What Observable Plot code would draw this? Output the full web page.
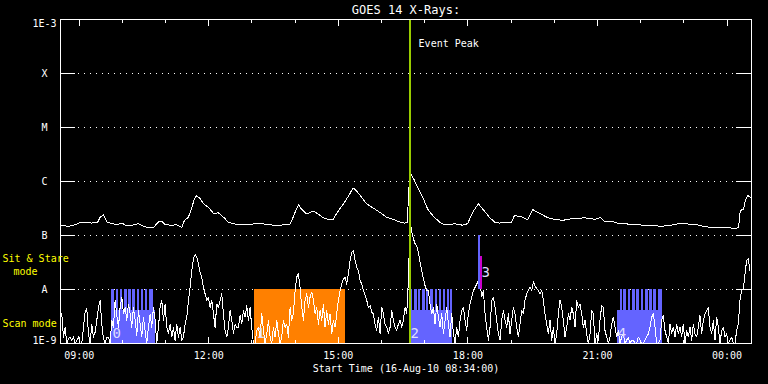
<!DOCTYPE html>
<html><head><meta charset="utf-8">
<script src="https://cdn.jsdelivr.net/npm/d3@7"></script>
<script src="https://cdn.jsdelivr.net/npm/@observablehq/plot@0.6"></script>
<style>html,body{margin:0;padding:0;background:#000;overflow:hidden}svg{display:block}</style>
</head><body><div id="chart"></div>
<script>
// ---- axis / labels ----
const titleText = "GOES 14 X-Rays:";
const xAxisTitle = "Start Time (16-Aug-10 08:34:00)";
const spanMin = [0, 960];                 // minutes after 08:34:00
const levelValues = [1e-3, 1e-4, 1e-5, 1e-6, 1e-7, 1e-8, 1e-9];
const levelLabels = ["1E-3", "X", "M", "C", "B", "A", "1E-9"];
const gridLevels = [1e-4, 1e-5, 1e-6, 1e-7, 1e-8];
const majorTickMin = [26, 206, 386, 566, 746, 926];
const majorTickLabels = ["09:00", "12:00", "15:00", "18:00", "21:00", "00:00"];
const minorTickMin = [86, 146, 266, 326, 446, 506, 626, 686, 806, 866];

// ---- long channel (1-8 A), log10 flux, irregular digitised times (min after start) ----
const longTimes = [1, 11.1, 20.4, 27.4, 34.3, 43.5, 51.8, 55.1, 59.7, 64.3, 71.3, 78.2, 85.1, 92.1, 99.0, 108.3, 115.3, 122.2, 129.2, 136.1,
  140.7, 145.4, 154.6, 161.5, 168.5, 172.2, 177.8, 182.4, 186.1, 189.3, 194.0, 198.6, 205.6, 212.5, 219.4, 224.0, 228.7, 233.3, 240.3, 247.2,
  258.3, 272.2, 279.2, 286.1, 300.0, 318.5, 323.2, 327.8, 331.0, 334.7, 341.7, 351.0, 357.9, 364.9, 371.8, 378.8, 383.3, 387.9, 394.9, 401.8,
  406.5, 411.1, 418.1, 425.0, 434.3, 443.5, 452.8, 462.1, 471.3, 478.2, 481.5, 483.3, 485.1,
  487.5, 491.7, 496.3, 503.2, 510.1, 517.1, 526.4, 533.3, 540.3, 547.2, 558.8, 565.7, 572.6, 580.6, 586.5, 595.8, 602.8, 609.7, 619.0, 626.0,
  630.6, 639.9, 649.0, 656.0, 662.9, 669.9, 676.8, 686.1, 697.6, 709.3, 718.5, 727.8, 737.1,
  743.1, 750.0, 756.9, 766.2, 773.2, 782.4, 791.7, 801.0, 810.1, 824.0, 833.3, 842.6, 851.8, 858.8, 868.1, 875.0, 884.3, 893.5, 902.8, 912.1,
  921.3, 930.6, 937.5, 942.1, 944.4, 949.0, 951.4, 954.6, 958.3];
const longLog10 = [-6.81, -6.83, -6.80, -6.76, -6.75, -6.77, -6.75, -6.66, -6.62, -6.75, -6.78, -6.80, -6.77, -6.82, -6.81, -6.78, -6.83, -6.86, -6.85, -6.75,
  -6.74, -6.80, -6.81, -6.80, -6.85, -6.72, -6.66, -6.48, -6.32, -6.26, -6.32, -6.41, -6.48, -6.59, -6.58, -6.63, -6.69, -6.76, -6.78, -6.80,
  -6.80, -6.78, -6.77, -6.80, -6.81, -6.80, -6.66, -6.51, -6.43, -6.51, -6.60, -6.55, -6.60, -6.67, -6.70, -6.70, -6.60, -6.51, -6.38, -6.23,
  -6.12, -6.17, -6.29, -6.41, -6.49, -6.57, -6.66, -6.70, -6.75, -6.77, -6.76, -6.35, -5.83,
  -5.87, -5.98, -6.11, -6.29, -6.51, -6.63, -6.75, -6.80, -6.80, -6.78, -6.81, -6.78, -6.57, -6.41, -6.51, -6.66, -6.75, -6.77, -6.75, -6.77,
  -6.63, -6.65, -6.71, -6.52, -6.57, -6.62, -6.67, -6.70, -6.72, -6.69, -6.69, -6.67, -6.69,
  -6.70, -6.67, -6.75, -6.74, -6.77, -6.77, -6.80, -6.80, -6.81, -6.81, -6.83, -6.82, -6.80, -6.78, -6.77, -6.80, -6.80, -6.83, -6.85, -6.86,
  -6.86, -6.86, -6.88, -6.85, -6.54, -6.51, -6.35, -6.26, -6.29];

// ---- short channel (0.5-4 A), log10 flux, evenly sampled ----
const shortStartMin = 1.8;
const shortStepMin = 2.315;
const shortLog10 = [
  -8.45, -8.88, -8.70, -9.0, -8.91, -8.88, -8.94, -8.88, -9.0, -8.94,
  -8.88, -9.0, -9.0, -8.70, -8.42, -8.36, -8.82, -9.0, -8.64, -8.88,
  -8.79, -8.57, -8.33, -8.20, -8.64, -8.91, -9.0, -8.88, -8.88, -9.0,
  -8.57, -8.70, -8.20, -8.48, -8.70, -8.33, -8.14, -8.45, -8.33, -8.57,
  -8.27, -8.45, -8.70, -8.33, -8.57, -8.85, -8.39, -8.64, -8.88, -8.51,
  -8.76, -9.0, -8.70, -8.45, -8.70, -8.33, -8.57, -9.0, -8.70, -8.33,
  -8.20, -8.57, -8.27, -8.70, -8.82, -8.64, -8.88, -8.70, -8.94, -8.64,
  -8.88, -8.70, -8.94, -8.88, -8.64, -8.51, -8.20, -7.96, -7.65, -7.43,
  -7.35, -7.40, -7.52, -7.68, -7.77, -7.96, -8.08, -8.20, -8.14, -8.33,
  -8.20, -8.45, -8.70, -8.27, -8.33, -8.20, -8.08, -8.45, -8.76, -8.88,
  -8.70, -8.39, -8.57, -8.82, -8.64, -8.70,
  -8.70, -8.48, -8.64, -8.39, -8.51, -8.30, -8.57, -8.33, -8.70, -9.0,
  -9.0, -8.76, -8.70, -8.88, -8.45, -8.76, -9.0, -8.82, -8.57, -8.88,
  -9.0, -8.70, -8.88, -8.57, -8.82, -9.0, -8.88, -8.57, -8.70, -8.64,
  -8.88, -8.33, -8.57, -8.45, -8.02, -7.77, -7.71, -7.96, -8.33, -8.57,
  -8.20, -8.08, -8.33, -8.14, -8.05, -8.20, -8.45, -8.33, -8.64, -8.39,
  -8.57, -8.27, -8.70, -8.39, -8.64, -8.45, -8.82, -8.57, -8.70, -8.45,
  -8.20, -8.02, -7.90, -7.80, -7.78, -7.90, -7.71, -7.46, -7.31, -7.28,
  -7.46, -7.59, -7.65, -7.83, -7.90, -8.02, -8.11, -8.20, -8.33, -8.30,
  -8.42, -8.45, -8.64, -8.76, -8.51, -8.82, -8.33, -8.45, -8.64, -8.70,
  -8.82, -8.70, -8.39, -8.57, -8.70, -8.76, -8.64, -8.57, -8.70, -8.57,
  -8.33, -8.45, -7.83, -6.72, -6.94, -7.06, -7.15,
  -7.20, -7.31, -7.50, -7.65, -7.80, -7.93, -8.02, -8.02, -8.27, -8.45,
  -8.33, -8.64, -8.27, -8.51, -8.70, -8.45, -8.82, -8.57, -8.33, -8.64,
  -8.88, -8.45, -8.82, -9.0, -8.70, -8.88, -8.57, -8.39, -8.33, -8.57,
  -8.76, -8.45, -8.27, -8.14, -8.02, -7.96, -7.90, -7.83, -7.86, -8.14,
  -8.02, -8.45, -8.70, -8.94, -8.70, -8.20, -8.14, -8.33, -8.57, -8.82,
  -8.94, -8.57, -8.39, -8.57, -8.70, -8.45, -8.82, -8.57, -8.33, -8.45,
  -8.70, -8.88, -8.64, -8.39, -8.45, -8.20, -8.08, -8.02, -7.96, -8.02,
  -7.86, -7.93, -7.99, -8.02, -8.08, -8.02, -8.20, -8.45, -8.64, -8.82,
  -8.57, -8.94, -8.70, -9.0, -8.82, -8.45, -8.20, -8.33, -8.57, -8.88,
  -8.70, -8.45, -8.57, -8.33, -8.45, -8.70, -8.20, -8.33, -8.27, -8.45,
  -8.70, -8.57, -8.82, -9.0, -8.82, -8.39, -8.45,
  -9.0, -8.82, -8.94, -8.57, -8.30, -8.33, -8.76, -8.88, -9.0, -8.88,
  -8.64, -8.51, -8.70, -8.88, -8.76, -9.0, -8.88, -8.82, -9.0, -8.94,
  -8.88, -9.0, -8.94, -8.94, -9.0, -9.0, -8.88, -8.94, -9.0, -9.0,
  -8.94, -8.88, -8.82, -8.70, -8.51, -8.45, -8.70, -9.0, -9.0, -8.94,
  -8.57, -8.48, -8.76, -8.88, -9.0, -8.64, -8.82, -8.70, -8.88, -8.64,
  -8.82, -8.70, -8.88, -8.64, -9.0, -8.76, -8.88, -8.70, -8.94, -8.64,
  -8.82, -8.88, -8.70, -8.48, -8.82, -8.57, -8.45, -8.39, -8.33, -8.70,
  -8.82, -8.57, -8.94, -8.51, -8.70, -9.0, -8.76, -8.70, -8.88, -8.82,
  -9.0, -8.94, -8.88, -9.0, -9.0, -8.76, -8.64, -8.20, -8.02, -7.99,
  -7.71, -7.46, -7.43, -7.65];

// ---- observing-mode blocks (minutes after start) ----
const orangeBlockMin = [269.4, 395.8];
const scanBlocksMin = [[70.8, 132.6], [485.1, 544.4], [773.2, 836.5]];
const stareTicksMin = [
  [70.8, 75.3], [77.5, 81.1], [83.3, 86.8], [89.0, 92.6], [94.9, 98.5], [100.7, 104.2], [106.4, 110.0], [112.2, 115.8], [118.1, 121.5], [123.8, 129.2],
  [485.1, 489.7], [491.7, 495.3], [497.2, 500.8], [502.8, 506.4], [508.3, 511.9], [513.9, 518.5], [520.4, 524.0], [526.0, 529.6], [531.5, 535.1], [537.1, 540.3], [542.2, 544.4],
  [777.8, 780.6], [782.5, 786.5], [788.5, 792.5], [794.4, 798.6], [800.6, 804.6], [806.5, 810.6], [812.5, 816.7], [818.6, 822.6], [824.5, 828.6], [830.6, 836.1]];
const stareTopFlux = 1e-8;
const scanTopFlux = 10 ** -8.39;
const eventPeakMin = 485.0;
const event3BlueMin = 581.5, event3BlueFlux = [1e-8, 1e-7];
const event3MagentaMin = 583.6, event3MagentaFlux = [1e-8, 10 ** -7.39];
const regionLabels = ["0", "1", "2", "4"];
const regionLabelMin = [72.2, 272.2, 486.1, 774.3];

// ---- build tables ----
const longData = longTimes.map((t, i) => ({t, flux: 10 ** longLog10[i]}));
const shortData = shortLog10.map((v, i) => ({t: shortStartMin + i * shortStepMin, flux: 10 ** v}));
const blue = "#6464ff";
const font = "DejaVu Sans Mono";
const tickShape = {draw(context, l) { context.moveTo(0, 0); context.lineTo(0, -l); }};
const tick = {anchor: "start", stroke: "#fff", strokeWidth: 1, shape: tickShape, shapeRendering: "crispEdges"};
const txt = {fill: "#fff", fontSize: 10, lineAnchor: "middle"};

const chart = Plot.plot({
  width: 768, height: 384,
  marginLeft: 60, marginRight: 17, marginTop: 19, marginBottom: 41,
  style: {background: "#000", color: "#fff", fontFamily: font},
  x: {domain: spanMin, axis: null},
  y: {type: "log", domain: [1e-9, 1e-3], axis: null},
  marks: [
    Plot.ruleY(gridLevels, {y: d => d, stroke: "#fff", strokeDasharray: "1,5", shapeRendering: "crispEdges"}),
    Plot.rect([orangeBlockMin], {x1: d => d[0], x2: d => d[1], y1: 1e-9, y2: stareTopFlux, fill: "#ff8000", shapeRendering: "crispEdges"}),
    Plot.rect(stareTicksMin, {x1: d => d[0], x2: d => d[1], y1: 1e-9, y2: stareTopFlux, fill: blue, shapeRendering: "crispEdges"}),
    Plot.rect(scanBlocksMin, {x1: d => d[0], x2: d => d[1], y1: 1e-9, y2: scanTopFlux, fill: blue, shapeRendering: "crispEdges"}),
    Plot.line(longData, {x: "t", y: "flux", stroke: "#fff", strokeWidth: 1, shapeRendering: "crispEdges"}),
    Plot.line(shortData, {x: "t", y: "flux", stroke: "#fff", strokeWidth: 1, shapeRendering: "crispEdges"}),
    Plot.ruleX([eventPeakMin], {x: d => d, stroke: "#99cc00", strokeWidth: 2, shapeRendering: "crispEdges"}),
    Plot.ruleX([event3BlueMin], {x: d => d, y1: event3BlueFlux[0], y2: event3BlueFlux[1], stroke: blue, strokeWidth: 2, shapeRendering: "crispEdges"}),
    Plot.ruleX([event3MagentaMin], {x: d => d, y1: event3MagentaFlux[0], y2: event3MagentaFlux[1], stroke: "#cc00cc", strokeWidth: 2, shapeRendering: "crispEdges"}),
    Plot.frame({stroke: "#fff", shapeRendering: "crispEdges"}),
    // inward ticks
    Plot.vector(gridLevels, {x: spanMin[0], y: d => d, rotate: 90, length: 14, ...tick}),
    Plot.vector(gridLevels, {x: spanMin[1], y: d => d, rotate: -90, length: 15, ...tick}),
    Plot.vector(majorTickMin, {x: d => d, y: 1e-3, rotate: 180, length: 6, ...tick}),
    Plot.vector(minorTickMin, {x: d => d, y: 1e-3, rotate: 180, length: 3, ...tick}),
    Plot.vector(majorTickMin, {x: d => d, y: 1e-9, rotate: 0, length: 6, ...tick}),
    Plot.vector(minorTickMin, {x: d => d, y: 1e-9, rotate: 0, length: 3, ...tick}),
    // y labels
    Plot.text(levelValues.slice(1, 6), {y: d => d, text: (d, i) => levelLabels[i + 1], frameAnchor: "left", dx: -16, textAnchor: "middle", ...txt}),
    Plot.text([levelValues[0]], {y: d => d, text: () => levelLabels[0], frameAnchor: "left", dx: -16, dy: 4, textAnchor: "middle", ...txt}),
    Plot.text([levelValues[6]], {y: d => d, text: () => levelLabels[6], frameAnchor: "left", dx: -16, dy: -3, textAnchor: "middle", ...txt}),
    // x labels
    Plot.text(majorTickMin, {x: d => d, text: (d, i) => majorTickLabels[i], frameAnchor: "bottom", dy: 12, ...txt}),
    Plot.text([xAxisTitle], {text: d => d, frameAnchor: "bottom", dy: 25, ...txt}),
    Plot.text([titleText], {text: d => d, frameAnchor: "top", dy: -9, ...txt, fontSize: 12}),
    // mode labels
    Plot.text(["Sit & Stare"], {text: d => d, frameAnchor: "bottom-left", dx: -58, dy: -85, textAnchor: "start", ...txt, fill: "#ffff00"}),
    Plot.text(["mode"], {text: d => d, frameAnchor: "bottom-left", dx: -47, dy: -72, textAnchor: "start", ...txt, fill: "#ffff00"}),
    Plot.text(["Scan mode"], {text: d => d, frameAnchor: "bottom-left", dx: -58, dy: -19.5, textAnchor: "start", ...txt, fill: "#ffff00"}),
    // event annotations
    Plot.text([eventPeakMin], {x: d => d, text: () => "Event Peak", frameAnchor: "top", dx: 9, dy: 24, textAnchor: "start", ...txt}),
    Plot.text(regionLabelMin, {x: d => d, text: (d, i) => regionLabels[i], frameAnchor: "bottom", dy: -10, textAnchor: "start", ...txt, fill: "#ddddff", fontSize: 14}),
    Plot.text([event3MagentaMin], {x: d => d, text: () => "3", frameAnchor: "bottom", dy: -71, dx: 1, textAnchor: "start", ...txt, fill: "#ddddff", fontSize: 14})
  ]
});
document.getElementById("chart").appendChild(chart);
</script>
</body></html>
